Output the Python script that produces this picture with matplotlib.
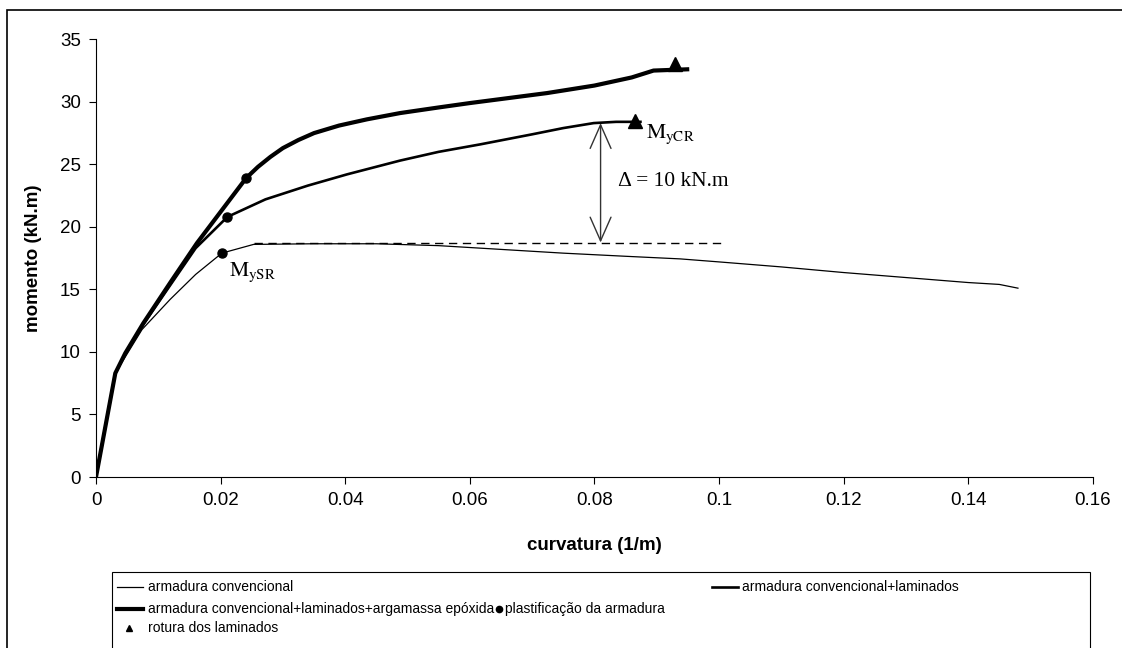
import matplotlib
matplotlib.use('Agg')
import matplotlib.pyplot as plt
from matplotlib.lines import Line2D
from matplotlib.patches import Rectangle

plt.rcParams['font.family'] = ['Liberation Sans', 'DejaVu Sans']
plt.rcParams['mathtext.fontset'] = 'stix'

# armadura convencional
x_conv = [0, 0.0031, 0.0074, 0.0119, 0.0160, 0.0202, 0.0253, 0.035, 0.045, 0.055,
          0.065, 0.075, 0.085, 0.0938, 0.100, 0.110, 0.120, 0.130, 0.140, 0.145, 0.148]
y_conv = [0, 8.3, 11.8, 14.2, 16.2, 17.9, 18.6, 18.65, 18.65, 18.5,
          18.2, 17.9, 17.65, 17.44, 17.2, 16.8, 16.35, 15.95, 15.55, 15.4, 15.1]
# armadura convencional+laminados
x_lam = [0, 0.0031, 0.0047, 0.0076, 0.012, 0.016, 0.0211, 0.0272, 0.0340, 0.0403,
         0.0488, 0.0550, 0.0617, 0.0700, 0.0750, 0.0799, 0.0835, 0.0874]
y_lam = [0, 8.3, 9.9, 12.2, 15.4, 18.3, 20.8, 22.2, 23.3, 24.2,
         25.3, 26.0, 26.6, 27.4, 27.9, 28.3, 28.4, 28.4]
# armadura convencional+laminados+argamassa epóxida
x_epo = [0, 0.0031, 0.0047, 0.0076, 0.012, 0.0162, 0.0241, 0.0260, 0.0280, 0.0300,
         0.0325, 0.0350, 0.0390, 0.0435, 0.0488, 0.0550, 0.0600, 0.0724, 0.0800,
         0.0860, 0.0895, 0.0949]
y_epo = [0, 8.3, 9.9, 12.3, 15.6, 18.7, 23.9, 24.8, 25.6, 26.3,
         26.95, 27.5, 28.1, 28.6, 29.1, 29.55, 29.9, 30.7, 31.3,
         31.95, 32.5, 32.6]
# patamar de referencia (tracejado)
x_ref = [0.0253, 0.1004]
y_ref = [18.7, 18.7]
# plastificação da armadura
x_plast = [0.0202, 0.0211, 0.0241]
y_plast = [17.9, 20.8, 23.9]
# rotura dos laminados
x_rot = [0.0866, 0.0930]
y_rot = [28.5, 33.0]
# seta delta
delta_x = 0.081
delta_top = 28.3
delta_bot = 18.75

W, H = 1122, 648
fig = plt.figure(figsize=(W / 100, H / 100), dpi=100)
ax = fig.add_axes([96 / W, 1 - 477 / H, (1092.7 - 96) / W, (477 - 39.3) / H])

ax.plot(x_conv, y_conv, color='black', lw=0.9)
ax.plot(x_lam, y_lam, color='black', lw=1.9)
ax.plot(x_epo, y_epo, color='black', lw=3.0)
ax.plot(x_ref, y_ref, color='black', lw=1.0, ls=(0, (6, 4)))
ax.plot(x_plast, y_plast, 'o', color='black', ms=6.5)
ax.plot(x_rot, y_rot, '^', color='black', ms=10.5)

ax.annotate('', xy=(delta_x, delta_top), xytext=(delta_x, delta_bot),
            arrowprops=dict(arrowstyle='<->,head_length=1.7,head_width=0.75',
                            color='#333333', lw=1, shrinkA=0, shrinkB=0))
ax.text(0.0838, 23.6, 'Δ = 10 kN.m', family='Liberation Serif', fontsize=15.5, va='center')
ax.text(0.0883, 27.4, r'$\mathrm{M_{yCR}}$', fontsize=15.5, va='center')
ax.text(0.0213, 16.4, r'$\mathrm{M_{ySR}}$', fontsize=15.5, va='center')

ax.set_xlim(0, 0.16)
ax.set_ylim(0, 35)
ax.set_xticks([0, 0.02, 0.04, 0.06, 0.08, 0.1, 0.12, 0.14, 0.16])
ax.set_xticklabels(['0', '0.02', '0.04', '0.06', '0.08', '0.1', '0.12', '0.14', '0.16'])
ax.set_yticks(range(0, 36, 5))
ax.spines['top'].set_visible(False)
ax.spines['right'].set_visible(False)
ax.tick_params(labelsize=13.5, direction='out', length=5, pad=6)
ax.set_xlabel('curvatura (1/m)', fontsize=13.5, fontweight='bold')
ax.set_ylabel('momento (kN.m)', fontsize=13.5, fontweight='bold')
ax.xaxis.set_label_coords(0.5, -0.137)
ax.yaxis.set_label_coords(-0.054, 0.5)

# moldura exterior
fig.add_artist(Rectangle((7 / W, -0.05), 1.1, 1 - 10 / H + 0.05, transform=fig.transFigure,
                         fill=False, ec='black', lw=1.2))
# caixa da legenda
fig.add_artist(Rectangle((112 / W, -0.05), (1090 - 112) / W, 1 - 572 / H + 0.05,
                         transform=fig.transFigure, fill=False, ec='black', lw=0.8))


def fx(px):
    return px / W


def fy(py):
    return 1 - py / H


lfs = 10
rows = [587, 609, 628]
fig.add_artist(Line2D([fx(117), fx(143)], [fy(rows[0])] * 2, color='black', lw=0.9,
                      transform=fig.transFigure))
fig.text(fx(148), fy(rows[0]), 'armadura convencional', fontsize=lfs, va='center')
fig.add_artist(Line2D([fx(712), fx(738)], [fy(rows[0])] * 2, color='black', lw=1.9,
                      transform=fig.transFigure))
fig.text(fx(742), fy(rows[0]), 'armadura convencional+laminados', fontsize=lfs, va='center')
fig.add_artist(Line2D([fx(117), fx(143)], [fy(rows[1])] * 2, color='black', lw=3.0,
                      transform=fig.transFigure))
t_long = fig.text(fx(148), fy(rows[1]), 'armadura convencional+laminados+argamassa epóxida',
                  fontsize=lfs, va='center')
fig.canvas.draw()
bb = t_long.get_window_extent()
fig.add_artist(Line2D([(bb.x1 + 5) / W], [fy(rows[1])], marker='o', color='black', ms=4.5,
                      transform=fig.transFigure))
fig.text((bb.x1 + 11) / W, fy(rows[1]), 'plastificação da armadura', fontsize=lfs, va='center')
fig.add_artist(Line2D([fx(129)], [fy(rows[2])], marker='^', color='black', ms=5,
                      transform=fig.transFigure))
fig.text(fx(148), fy(rows[2]), 'rotura dos laminados', fontsize=lfs, va='center')

fig.savefig('out.png', dpi=100)
